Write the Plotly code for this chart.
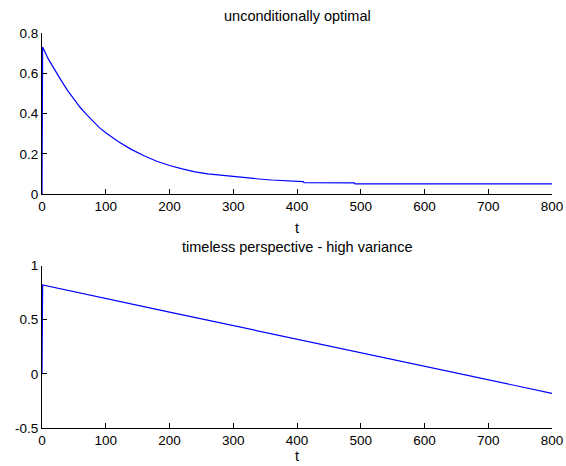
import plotly.graph_objects as go

# Data
t_top = [0, 1, 10, 20, 30, 40, 50, 60, 70, 80, 90, 100, 120, 140, 160, 180, 200,
         220, 240, 260, 280, 300, 320, 340, 360, 380, 400, 410, 411, 490, 491, 800]
y_top = [0, 0.73, 0.67, 0.615, 0.565, 0.515, 0.47, 0.43, 0.395, 0.36, 0.33, 0.305, 0.26,
         0.222, 0.19, 0.163, 0.142, 0.125, 0.11, 0.10, 0.093, 0.087, 0.080, 0.075,
         0.070, 0.066, 0.063, 0.062, 0.057, 0.056, 0.051, 0.051]

t_bot = [0, 1, 200, 400, 600, 800]
y_bot = [0, 0.82, 0.57, 0.32, 0.07, -0.18]

title_top = "unconditionally optimal"
title_bot = "timeless perspective - high variance"
x_label = "t"
x_ticks = [0, 100, 200, 300, 400, 500, 600, 700, 800]
y_ticks_top = [0, 0.2, 0.4, 0.6, 0.8]
y_ticks_bot = [-0.5, 0, 0.5, 1]
y_ticklabels_top = ["0", "0.2", "0.4", "0.6", "0.8"]
y_ticklabels_bot = ["-0.5", "0", "0.5", "1"]

FAM = "Liberation Sans, Arial, Helvetica, sans-serif"
tick_font = dict(family=FAM, size=13.5, color="black")
label_font = dict(family=FAM, size=14.5, color="black")

fig = go.Figure()
fig.add_trace(go.Scatter(x=t_top, y=y_top, mode="lines",
                         line=dict(color="rgb(0,0,255)", width=1.2),
                         xaxis="x", yaxis="y", showlegend=False, hoverinfo="skip"))
fig.add_trace(go.Scatter(x=t_bot, y=y_bot, mode="lines",
                         line=dict(color="rgb(0,0,255)", width=1.2),
                         xaxis="x2", yaxis="y2", showlegend=False, hoverinfo="skip"))

axis_common = dict(showgrid=False, zeroline=False, showline=True, linecolor="black",
                   linewidth=1, ticks="inside", ticklen=5, tickcolor="black",
                   tickfont=tick_font, mirror=False, automargin=False)

fig.update_layout(
    template="none",
    width=566, height=466,
    margin=dict(l=41.7, r=13.7, t=32.7, b=37.7, autoexpand=False),
    paper_bgcolor="white", plot_bgcolor="white",
    font=tick_font,
    xaxis=dict(domain=[0, 1], range=[0, 800], tickvals=x_ticks, anchor="y", **axis_common),
    yaxis=dict(domain=[0.5922, 1.0], range=[0, 0.8], tickvals=y_ticks_top,
               ticktext=y_ticklabels_top, anchor="x", **axis_common),
    xaxis2=dict(domain=[0, 1], range=[0, 800], tickvals=x_ticks, anchor="y2", **axis_common),
    yaxis2=dict(domain=[0, 0.4113], range=[-0.5, 1], tickvals=y_ticks_bot,
                ticktext=y_ticklabels_bot, anchor="x2", **axis_common),
    annotations=[
        dict(text=title_top, xref="paper", yref="paper", x=0.5, y=1.0, yshift=7,
             xanchor="center", yanchor="bottom", showarrow=False, font=label_font),
        dict(text=x_label, xref="paper", yref="paper", x=0.5, y=0.5922, yshift=-24,
             xanchor="center", yanchor="top", showarrow=False, font=label_font),
        dict(text=title_bot, xref="paper", yref="paper", x=0.5, y=0.4113, yshift=9,
             xanchor="center", yanchor="bottom", showarrow=False, font=label_font),
        dict(text=x_label, xref="paper", yref="paper", x=0.5, y=0.0, yshift=-19,
             xanchor="center", yanchor="top", showarrow=False, font=label_font,
             borderpad=0),
    ],
)

fig.write_html("out.html", config={"displayModeBar": False, "staticPlot": True})

# remove default page margin so the figure sits at the window's top-left corner
with open("out.html", "r", encoding="utf-8") as f:
    html = f.read()
html = html.replace("<head>", "<head><style>html,body{margin:0;padding:0;overflow:hidden;}</style>", 1)
with open("out.html", "w", encoding="utf-8") as f:
    f.write(html)
